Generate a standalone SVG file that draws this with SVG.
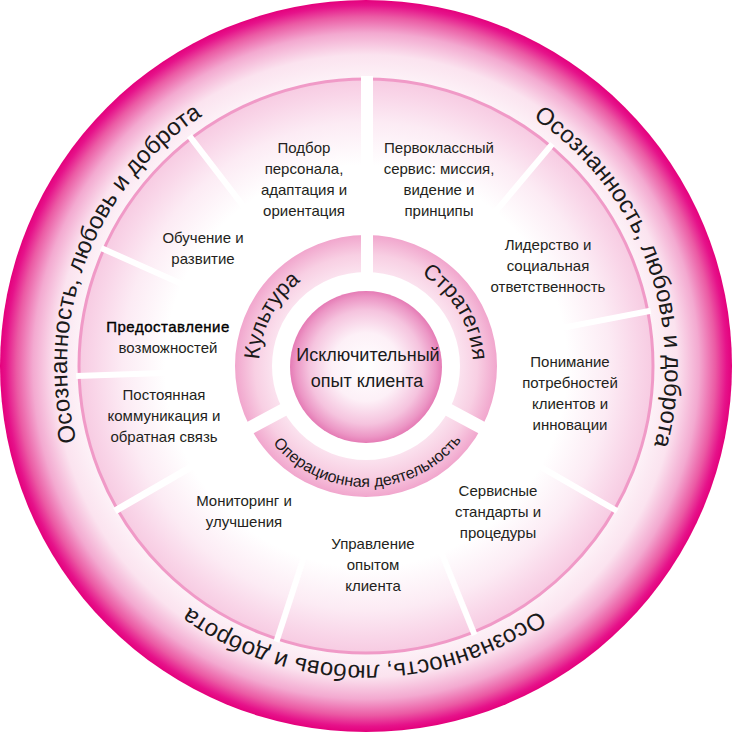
<svg xmlns="http://www.w3.org/2000/svg" width="732" height="733" viewBox="0 0 732 733">
<defs>
  <radialGradient id="gOuter" gradientUnits="userSpaceOnUse" cx="366" cy="366" r="366">
    <stop offset="0.78" stop-color="#fdf3f8"/>
    <stop offset="0.85" stop-color="#fbe3ef"/>
    <stop offset="0.91" stop-color="#f3a9d0"/>
    <stop offset="0.955" stop-color="#eb5aa4"/>
    <stop offset="0.985" stop-color="#e6128a"/>
    <stop offset="1" stop-color="#e4007c"/>
  </radialGradient>
  <radialGradient id="gSeg" gradientUnits="userSpaceOnUse" cx="366" cy="366" r="287">
    <stop offset="0.7" stop-color="#ffffff"/>
    <stop offset="0.85" stop-color="#fcebf4"/>
    <stop offset="0.95" stop-color="#f9d5e8"/>
    <stop offset="1" stop-color="#f7cbe2"/>
  </radialGradient>
  <radialGradient id="gRing" gradientUnits="userSpaceOnUse" cx="366" cy="366" r="131">
    <stop offset="0.71" stop-color="#fbe3ef"/>
    <stop offset="0.85" stop-color="#f8cfe3"/>
    <stop offset="1" stop-color="#f1a6cd"/>
  </radialGradient>
  <radialGradient id="gCore" gradientUnits="userSpaceOnUse" cx="366" cy="367" r="76">
    <stop offset="0" stop-color="#ffffff"/>
    <stop offset="0.45" stop-color="#fdf0f7"/>
    <stop offset="0.75" stop-color="#f5c3de"/>
    <stop offset="0.92" stop-color="#ec96c5"/>
    <stop offset="1" stop-color="#e57bb5"/>
  </radialGradient>
  <path id="arcOuter" d="M 665 366 A 299 299 0 1 1 67 366 A 299 299 0 1 1 665 366 A 299 299 0 1 1 67 366 A 299 299 0 1 1 665 366"/>
  <path id="arcRing" d="M 473 366 A 107 107 0 1 1 259 366 A 107 107 0 1 1 473 366 A 107 107 0 1 1 259 366 A 107 107 0 1 1 473 366"/>
  <path id="arcOps" d="M 245 366 A 121 121 0 1 0 487 366 A 121 121 0 1 0 245 366"/>
</defs>
<style>
  .lbl { font-family: "Liberation Sans", Arial, sans-serif; font-size: 15px; fill: #231f20; text-anchor: middle; }
  .arc { font-family: "Liberation Sans", Arial, sans-serif; font-size: 24px; fill: #1a1a1a; text-anchor: middle; }
  .ringtxt { font-family: "Liberation Sans", Arial, sans-serif; font-size: 22px; fill: #1a1a1a; text-anchor: middle; }
  .opstxt { font-family: "Liberation Sans", Arial, sans-serif; font-size: 16px; fill: #1a1a1a; text-anchor: middle; }
  .core { font-family: "Liberation Sans", Arial, sans-serif; font-size: 18px; fill: #1a1a1a; text-anchor: middle; }
  .strong { fill: #000000; stroke: #000000; stroke-width: 0.35; letter-spacing: 0.5px; }
  .sep { stroke: #ffffff; stroke-width: 6; fill: none; }
  .gap { stroke: #ffffff; stroke-width: 13; fill: none; }
</style>

<g id="outer-band">
  <circle cx="366" cy="366" r="366" fill="url(#gOuter)"/>
  <text class="arc"><textPath href="#arcOuter" startOffset="1049">Осознанность, любовь и доброта</textPath></text>
  <text class="arc"><textPath href="#arcOuter" startOffset="1772">Осознанность, любовь и доброта</textPath></text>
  <text class="arc"><textPath href="#arcOuter" startOffset="472">Осознанность, любовь и доброта</textPath></text>
</g>

<g id="segment-ring">
  <circle cx="366" cy="366" r="287" fill="url(#gSeg)" stroke="#f09ac7" stroke-width="3"/>
</g>

<g id="connectors">
  <line class="sep" x1="274.7" y1="247.0" x2="189.4" y2="135.9"/>
  <line class="sep" x1="229.0" y1="305.0" x2="101.1" y2="248.0"/>
  <line class="sep" x1="216.1" y1="371.2" x2="76.2" y2="376.1"/>
  <line class="sep" x1="236.1" y1="441.0" x2="114.9" y2="511.0" style="stroke-width:7"/>
  <line class="sep" x1="319.6" y1="508.7" x2="276.4" y2="641.8"/>
  <line class="sep" x1="422.2" y1="505.1" x2="474.6" y2="634.9"/>
  <line class="sep" x1="495.9" y1="441.0" x2="617.1" y2="511.0"/>
  <line class="sep" x1="513.2" y1="337.4" x2="650.7" y2="310.7"/>
  <line class="sep" x1="462.4" y1="251.1" x2="552.4" y2="143.9"/>
</g>

<g id="inner-ring">
  <circle cx="366" cy="366" r="112.5" fill="none" stroke="url(#gRing)" stroke-width="37"/>
  <rect x="361" y="76" width="12" height="198" fill="#ffffff"/>
  <line class="gap" x1="288.3" y1="407.3" x2="245.9" y2="429.9"/>
  <line class="gap" x1="443.7" y1="407.3" x2="486.1" y2="429.9"/>
</g>

<g id="node-culture">
  <text class="ringtxt"><textPath href="#arcRing" startOffset="388">Культура</textPath></text>
</g>
<g id="node-strategy">
  <text class="ringtxt"><textPath href="#arcRing" startOffset="614">Стратегия</textPath></text>
</g>
<g id="node-operations">
  <text class="opstxt"><textPath href="#arcOps" startOffset="192">Операционная деятельность</textPath></text>
</g>

<g id="node-core">
  <circle cx="366" cy="367" r="76" fill="url(#gCore)"/>
  <text class="core" x="368" y="361">Исключительный</text>
  <text class="core" x="367" y="387">опыт клиента</text>
</g>

<g id="node-hiring">
  <text class="lbl" x="304" y="153">Подбор</text>
  <text class="lbl" x="304" y="174">персонала,</text>
  <text class="lbl" x="304" y="195">адаптация и</text>
  <text class="lbl" x="304" y="216">ориентация</text>
</g>
<g id="node-service">
  <text class="lbl" x="439" y="153">Первоклассный</text>
  <text class="lbl" x="439" y="174">сервис: миссия,</text>
  <text class="lbl" x="439" y="195">видение и</text>
  <text class="lbl" x="439" y="216">принципы</text>
</g>
<g id="node-leadership">
  <text class="lbl" x="548" y="250">Лидерство и</text>
  <text class="lbl" x="548" y="271">социальная</text>
  <text class="lbl" x="548" y="292">ответственность</text>
</g>
<g id="node-needs">
  <text class="lbl" x="570" y="367">Понимание</text>
  <text class="lbl" x="570" y="388">потребностей</text>
  <text class="lbl" x="570" y="409">клиентов и</text>
  <text class="lbl" x="570" y="430">инновации</text>
</g>
<g id="node-standards">
  <text class="lbl" x="498" y="496">Сервисные</text>
  <text class="lbl" x="498" y="517">стандарты и</text>
  <text class="lbl" x="498" y="538">процедуры</text>
</g>
<g id="node-cx">
  <text class="lbl" x="373" y="549">Управление</text>
  <text class="lbl" x="373" y="570">опытом</text>
  <text class="lbl" x="373" y="591">клиента</text>
</g>
<g id="node-monitoring">
  <text class="lbl" x="244" y="506">Мониторинг и</text>
  <text class="lbl" x="244" y="527">улучшения</text>
</g>
<g id="node-communication">
  <text class="lbl" x="164" y="400">Постоянная</text>
  <text class="lbl" x="164" y="421">коммуникация и</text>
  <text class="lbl" x="164" y="442">обратная связь</text>
</g>
<g id="node-empowerment">
  <text class="lbl strong" x="168" y="332">Предоставление</text>
  <text class="lbl" x="168" y="353">возможностей</text>
</g>
<g id="node-training">
  <text class="lbl" x="203" y="243">Обучение и</text>
  <text class="lbl" x="203" y="264">развитие</text>
</g>
</svg>
